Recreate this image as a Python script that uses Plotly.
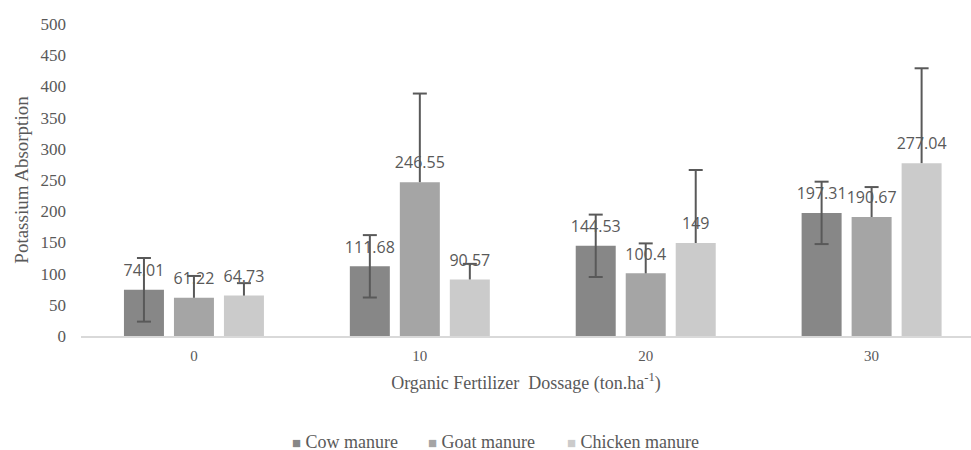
import plotly.graph_objects as go

categories = ["0", "10", "20", "30"]
series_names = ["Cow manure", "Goat manure", "Chicken manure"]
cow = [74.01, 111.68, 144.53, 197.31]
goat = [61.22, 246.55, 100.4, 190.67]
chicken = [64.73, 90.57, 149, 277.04]
cow_err = [51, 50, 50, 50]
goat_err = [35, 142, 48, 48]
chicken_err = [20, 25, 117, 152]
colors = ["#878787", "#a5a5a5", "#cbcbcb"]
y_ticks = [0, 50, 100, 150, 200, 250, 300, 350, 400, 450, 500]

ERR_COLOR = "#595959"
fig = go.Figure()
values = [cow, goat, chicken]
errs = [cow_err, goat_err, chicken_err]
for i, name in enumerate(series_names):
    both = (i == 0)
    minus = errs[i] if both else [0] * len(errs[i])
    fig.add_trace(go.Bar(
        x=categories, y=values[i], name=name, offsetgroup=str(i),
        marker=dict(color=colors[i], line=dict(width=0)),
        cliponaxis=False, showlegend=False,
        error_y=dict(type="data", array=errs[i], arrayminus=minus,
                     symmetric=False, color=ERR_COLOR, thickness=2, width=0),
    ))

# data labels
for i, name in enumerate(series_names):
    fig.add_trace(go.Scatter(
        x=categories, y=values[i], mode="markers+text", offsetgroup=str(i),
        marker=dict(size=14, opacity=0),
        text=[f"{v:g}" for v in values[i]], textposition="top center",
        textfont=dict(family="Open Sans", size=16, color="#595959"),
        hoverinfo="skip", showlegend=False, cliponaxis=False,
    ))

# caps of the error bars
for i, name in enumerate(series_names):
    cap_x = list(categories)
    cap_y = [v + e for v, e in zip(values[i], errs[i])]
    if i == 0:
        cap_x += list(categories)
        cap_y += [v - e for v, e in zip(values[i], errs[i])]
    fig.add_trace(go.Scatter(
        x=cap_x, y=cap_y, mode="markers", offsetgroup=str(i),
        marker=dict(symbol="line-ew", size=10, color=ERR_COLOR,
                    line=dict(width=2, color=ERR_COLOR)),
        hoverinfo="skip", showlegend=False, cliponaxis=False,
    ))

fig.update_layout(
    width=971, height=450,
    margin=dict(l=81, r=0, t=24, b=114, autoexpand=False),
    plot_bgcolor="white", paper_bgcolor="white",
    barmode="group", bargap=0.336, bargroupgap=0.2,
    scattermode="group", scattergap=0.336,
    font=dict(family="Liberation Serif", color="#595959", size=15),
    showlegend=False,
)

legend_x = [0.235, 0.388, 0.544]
for i, name in enumerate(series_names):
    fig.add_annotation(
        xref="paper", yref="paper", x=legend_x[i], y=-0.34,
        xanchor="left", yanchor="middle", showarrow=False,
        text=f"<span style='color:{colors[i]};font-size:15px'>■</span> {name}",
        font=dict(family="Liberation Serif", size=18, color="#595959"),
    )

fig.update_xaxes(
    type="category", range=[-0.5, 3.44], automargin=False,
    showline=True, linecolor="#d9d9d9", linewidth=2,
    ticks="", showgrid=False, ticklabelstandoff=5,
    tickfont=dict(family="Liberation Serif", size=15, color="#595959"),
    title=dict(text="Organic Fertilizer  Dossage (ton.ha<sup>-1</sup>)",
               font=dict(family="Liberation Serif", size=18, color="#595959"),
               standoff=13),
)
fig.update_yaxes(
    range=[0, 500], tickvals=y_ticks, showgrid=False, zeroline=False,
    showline=False, ticks="", ticklabelstandoff=14, automargin=False,
    tickfont=dict(family="Liberation Serif", size=17, color="#595959"),
    title=dict(text="Potassium Absorption",
               font=dict(family="Liberation Serif", size=19, color="#595959"),
               standoff=6),
)

fig.write_html("out.html", config={"displayModeBar": False},
               post_script="document.body.style.margin='0';")
